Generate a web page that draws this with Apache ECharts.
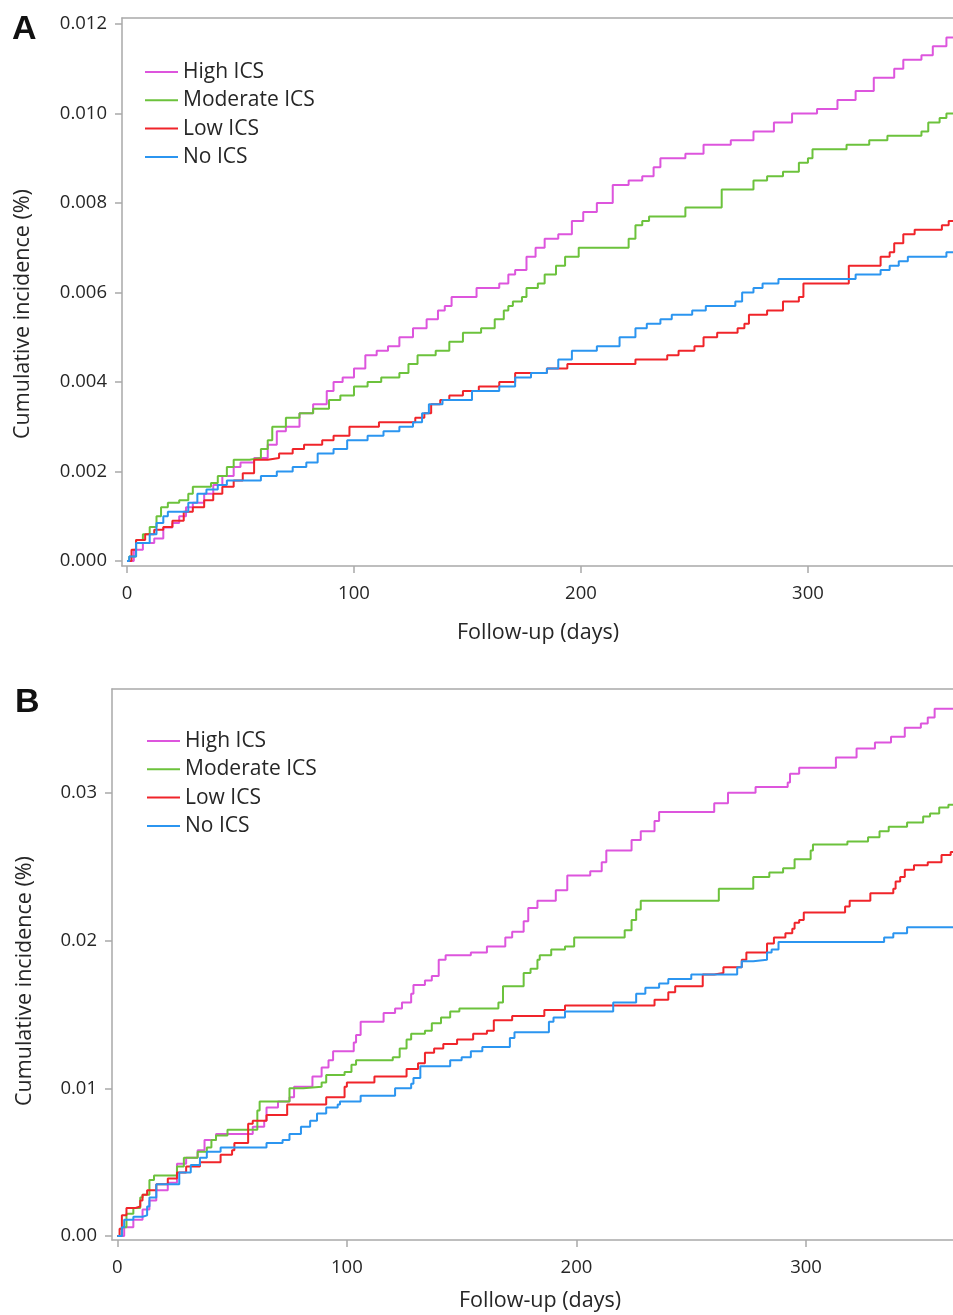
<!DOCTYPE html>
<html>
<head>
<meta charset="utf-8">
<script src="https://cdn.jsdelivr.net/npm/echarts@6/dist/echarts.min.js"></script>
<style>
  html, body { margin: 0; padding: 0; background: #fff; }
  #main { width: 953px; height: 1315px; }
</style>
</head>
<body>
<div id="main"></div>
<script>
// group names, legend order
var groups = ['High ICS', 'Moderate ICS', 'Low ICS', 'No ICS'];
var colors = ['#dd55dd', '#6cc23c', '#f0242a', '#2b95f0'];

// tick values
var xTicks = [0, 100, 200, 300];
var yTicksA = [0, 0.002, 0.004, 0.006, 0.008, 0.010, 0.012];
var yTicksB = [0, 0.01, 0.02, 0.03];

// panel A: [day, cumulative incidence]
var aHigh = [[0,0],[3,0.00025],[7,0.0004],[12,0.0005],[16,0.00075],[20,0.00085],[23,0.001],[26,0.0012],[29,0.0013],[34,0.0015],[38,0.0017],[42,0.0019],[47,0.0021],[50,0.0022],[56,0.0023],[62,0.0026],[66,0.0029],[70,0.0030],[76,0.0033],[82,0.0035],[88,0.0038],[91,0.0040],[95,0.0041],[100,0.0043],[105,0.0046],[110,0.0047],[115,0.0048],[120,0.0050],[126,0.0052],[132,0.0054],[137,0.0056],[140,0.0057],[143,0.0059],[154,0.0061],[164,0.0062],[168,0.0064],[171,0.0065],[176,0.0068],[180,0.0070],[184,0.0072],[190,0.0073],[196,0.0076],[201,0.0078],[207,0.0080],[214,0.0084],[221,0.0085],[227,0.0086],[232,0.0088],[235,0.0090],[246,0.0091],[254,0.0093],[266,0.0094],[276,0.0096],[285,0.0098],[293,0.0100],[304,0.0101],[313,0.0103],[321,0.0105],[329,0.0108],[338,0.0110],[342,0.0112],[350,0.0113],[355,0.0115],[361,0.0117],[364,0.0117]];
var aModerate = [[0,0],[1,0.0001],[4,0.00047],[7,0.0006],[10,0.00076],[13,0.001],[15,0.0012],[18,0.0013],[23,0.00136],[27,0.0015],[29,0.00166],[37,0.00174],[40,0.0019],[44,0.0021],[47,0.00226],[54,0.0023],[59,0.0025],[62,0.0027],[64,0.0030],[70,0.0032],[76,0.0033],[82,0.0034],[89,0.0036],[94,0.0037],[100,0.0039],[106,0.0040],[112,0.0041],[120,0.0042],[124,0.0044],[128,0.0046],[136,0.0047],[142,0.0049],[148,0.0051],[156,0.0052],[162,0.0054],[166,0.0056],[168,0.0057],[170,0.0058],[174,0.0059],[176,0.0061],[181,0.0062],[184,0.0064],[189,0.0066],[193,0.0068],[199,0.0070],[221,0.0072],[224,0.0075],[227,0.0076],[230,0.0077],[246,0.0079],[262,0.0083],[276,0.0085],[282,0.0086],[289,0.0087],[296,0.0089],[300,0.0090],[302,0.0092],[317,0.0093],[327,0.0094],[335,0.0095],[350,0.0096],[353,0.0098],[358,0.0099],[361,0.0100],[364,0.0100]];
var aLow = [[0,0],[2,0.00025],[4,0.00047],[8,0.0006],[12,0.0007],[16,0.00076],[20,0.0009],[25,0.0011],[29,0.0012],[34,0.00136],[38,0.0015],[42,0.00166],[47,0.0018],[51,0.00196],[56,0.00226],[62,0.0023],[67,0.0024],[73,0.0025],[78,0.0026],[86,0.0027],[91,0.0028],[98,0.0030],[111,0.0031],[127,0.0032],[131,0.0033],[134,0.0035],[138,0.0036],[142,0.0037],[148,0.0038],[155,0.0039],[164,0.0040],[171,0.0042],[185,0.0043],[194,0.0044],[224,0.0045],[238,0.0046],[243,0.0047],[250,0.0048],[254,0.0050],[260,0.0051],[269,0.0052],[272,0.0053],[274,0.0055],[282,0.0056],[289,0.0058],[296,0.0059],[298,0.0062],[318,0.0066],[332,0.0068],[336,0.0069],[338,0.0071],[342,0.0073],[347,0.0074],[359,0.0075],[362,0.0076],[364,0.0076]];
var aNone = [[0,0],[1,0.0001],[4,0.0004],[10,0.0006],[13,0.00085],[16,0.001],[18,0.0011],[27,0.0013],[31,0.0015],[35,0.0016],[40,0.0017],[44,0.0018],[59,0.0019],[66,0.0020],[73,0.0021],[79,0.0022],[84,0.0024],[91,0.0025],[97,0.0027],[106,0.0028],[113,0.0029],[120,0.0030],[126,0.0031],[130,0.0033],[133,0.0035],[139,0.0036],[152,0.0038],[164,0.0039],[171,0.0041],[178,0.0042],[185,0.0043],[190,0.0045],[196,0.0047],[207,0.0048],[217,0.0050],[224,0.0052],[229,0.0053],[235,0.0054],[240,0.0055],[249,0.0056],[255,0.0057],[268,0.0058],[271,0.0060],[276,0.0061],[280,0.0062],[287,0.0063],[321,0.0064],[332,0.0065],[336,0.0066],[340,0.0067],[344,0.0068],[361,0.0069],[364,0.0069]];

// panel B
var bHigh = [[0,0],[3,0.0006],[7,0.0011],[11,0.0018],[14,0.0024],[17,0.0031],[22,0.0036],[26,0.0049],[30,0.0053],[35,0.0058],[38,0.0065],[43,0.0069],[59,0.0074],[64,0.0078],[65,0.0087],[70,0.0091],[75,0.0094],[77,0.0101],[85,0.0108],[89,0.0114],[92,0.0119],[94,0.0125],[103,0.0131],[104,0.0136],[106,0.0145],[116,0.0151],[121,0.0154],[124,0.0158],[128,0.0164],[129,0.0170],[134,0.0173],[137,0.0176],[140,0.0187],[143,0.0190],[154,0.0192],[161,0.0196],[169,0.0202],[172,0.0206],[177,0.0213],[179,0.0222],[183,0.0227],[191,0.0234],[196,0.0244],[206,0.0247],[211,0.0253],[213,0.0261],[224,0.0268],[228,0.0274],[234,0.0281],[236,0.0287],[260,0.0293],[266,0.0300],[278,0.0304],[292,0.0307],[293,0.0313],[297,0.0317],[313,0.0324],[322,0.0330],[330,0.0334],[337,0.0338],[343,0.0344],[350,0.0347],[353,0.0351],[356,0.0357],[364,0.0357]];
var bModerate = [[0,0],[2,0.0006],[4,0.0015],[7,0.0019],[10,0.0026],[11,0.0028],[14,0.0038],[16,0.0041],[26,0.0047],[29,0.0053],[35,0.0057],[39,0.0060],[41,0.0065],[43,0.0068],[48,0.0072],[61,0.0085],[62,0.0091],[75,0.0100],[81,0.0101],[89,0.0104],[91,0.0109],[99,0.0111],[102,0.0116],[104,0.0119],[120,0.0121],[123,0.0127],[126,0.0133],[128,0.0137],[134,0.0139],[137,0.0144],[141,0.0148],[145,0.0152],[149,0.0154],[166,0.0158],[168,0.0169],[177,0.0178],[180,0.0181],[183,0.0187],[184,0.0190],[189,0.0194],[195,0.0196],[199,0.0202],[221,0.0207],[224,0.0214],[226,0.0221],[228,0.0227],[262,0.0235],[277,0.0243],[284,0.0246],[290,0.0249],[295,0.0255],[302,0.0261],[303,0.0265],[318,0.0267],[327,0.0270],[332,0.0274],[336,0.0277],[344,0.0280],[351,0.0284],[354,0.0286],[358,0.0290],[362,0.0292],[364,0.0292]];
var bLow = [[0,0],[1,0.0005],[2,0.0014],[4,0.0019],[8,0.0020],[10,0.0024],[11,0.0028],[13,0.0031],[17,0.0035],[22,0.0039],[26,0.0043],[30,0.0047],[36,0.0050],[45,0.0055],[50,0.0058],[51,0.0063],[57,0.0076],[59,0.0078],[65,0.0082],[74,0.0089],[91,0.0094],[99,0.0101],[100,0.0104],[112,0.0108],[126,0.0113],[131,0.0117],[134,0.0124],[138,0.0127],[142,0.0130],[148,0.0133],[155,0.0137],[161,0.0139],[164,0.0146],[172,0.0149],[186,0.0153],[195,0.0156],[234,0.0160],[240,0.0165],[243,0.0169],[255,0.0177],[260,0.0178],[264,0.0182],[272,0.0187],[274,0.0192],[283,0.0198],[286,0.0202],[291,0.0205],[294,0.0208],[295,0.0212],[297,0.0214],[299,0.0219],[317,0.0223],[319,0.0227],[328,0.0232],[338,0.0235],[339,0.0240],[341,0.0243],[343,0.0248],[347,0.0251],[353,0.0253],[359,0.0258],[363,0.0260],[364,0.0260]];
var bNone = [[0,0],[2,0.0006],[3,0.0011],[7,0.0013],[11,0.0014],[13,0.0020],[14,0.0026],[17,0.0035],[27,0.0043],[32,0.0048],[36,0.0053],[39,0.0057],[45,0.0060],[65,0.0063],[72,0.0065],[75,0.0069],[80,0.0074],[84,0.0078],[87,0.0083],[91,0.0087],[96,0.0089],[97,0.0091],[106,0.0095],[121,0.0100],[128,0.0103],[129,0.0107],[132,0.0115],[145,0.0119],[150,0.0121],[154,0.0125],[159,0.0128],[171,0.0134],[173,0.0138],[188,0.0145],[190,0.0148],[195,0.0152],[216,0.0158],[226,0.0164],[230,0.0168],[236,0.0171],[240,0.0174],[250,0.0177],[270,0.0182],[272,0.0186],[277,0.0187],[283,0.0192],[285,0.0194],[288,0.0199],[334,0.0202],[338,0.0205],[344,0.0209],[364,0.0209]];

var chart = echarts.init(document.getElementById('main'));

var FONT = 'Open Sans';
var GRAY = '#a9a9a9';
var TXT = '#262626';

function xAxisCfg(idx, min, max) {
    return {
        type: 'value', gridIndex: idx, min: min, max: max,
        axisLine: { show: true, onZero: false, lineStyle: { color: GRAY, width: 1.5 } },
        axisTick: { show: true, length: 7, lineStyle: { color: GRAY, width: 1.5 }, customValues: xTicks },
        axisLabel: { margin: 18, fontSize: 18.5, fontFamily: FONT, color: TXT, customValues: xTicks },
        splitLine: { show: false }
    };
}

// top frame line only
function topAxisCfg(idx, min, max) {
    return {
        type: 'value', gridIndex: idx, min: min, max: max, position: 'top',
        axisLine: { show: true, onZero: false, lineStyle: { color: GRAY, width: 1.5 } },
        axisTick: { show: false }, axisLabel: { show: false }, splitLine: { show: false }
    };
}

function yAxisCfg(idx, min, max, ticks, digits) {
    return {
        type: 'value', gridIndex: idx, min: min, max: max,
        axisLine: { show: true, onZero: false, lineStyle: { color: GRAY, width: 1.5 } },
        axisTick: { show: true, length: 7, lineStyle: { color: GRAY, width: 1.5 }, customValues: ticks },
        axisLabel: {
            margin: 15, fontSize: 18.5, fontFamily: FONT, color: TXT, customValues: ticks,
            formatter: function (v) { return v.toFixed(digits); }
        },
        splitLine: { show: false }
    };
}

function legendCfg(left, top) {
    return {
        orient: 'vertical', left: left, top: top,
        data: groups, icon: 'rect', itemWidth: 33, itemHeight: 2, itemGap: 6.3,
        textStyle: { fontSize: 21, fontFamily: FONT, color: TXT, lineHeight: 22 }
    };
}

var panels = [[aHigh, aModerate, aLow, aNone], [bHigh, bModerate, bLow, bNone]];
var series = [];
panels.forEach(function (sets, p) {
    sets.forEach(function (d, i) {
        series.push({
            name: groups[i], type: 'line', step: 'end',
            xAxisIndex: p, yAxisIndex: p,
            data: d, showSymbol: false, symbol: 'none',
            color: colors[i],
            lineStyle: { width: 2, color: colors[i] },
            animation: false, silent: true
        });
    });
});

var option = {
    backgroundColor: '#fff',
    animation: false,
    grid: [
        { left: 122, top: 18, width: 831, height: 548 },
        { left: 112, top: 689, width: 841, height: 551 }
    ],
    xAxis: [
        xAxisCfg(0, -2.2, 363.9), xAxisCfg(1, -2.3, 364.0),
        topAxisCfg(0, -2.2, 363.9), topAxisCfg(1, -2.3, 364.0)
    ],
    yAxis: [yAxisCfg(0, -0.000112, 0.012134, yTicksA, 3), yAxisCfg(1, -0.00027, 0.03703, yTicksB, 2)],
    legend: [legendCfg(140, 56), legendCfg(142, 725)],
    series: series,
    graphic: [
        { type: 'text', left: 12, top: 13, style: { text: 'A', font: 'bold 34px "Liberation Sans"', fill: '#111' } },
        { type: 'text', left: 15, top: 686, style: { text: 'B', font: 'bold 34px "Liberation Sans"', fill: '#111' } },
        { type: 'text', x: 23, y: 314, rotation: Math.PI / 2,
          style: { text: 'Cumulative incidence (%)', font: '21.5px "Open Sans"', fill: TXT, align: 'center', verticalAlign: 'middle' } },
        { type: 'text', x: 538, y: 633,
          style: { text: 'Follow-up (days)', font: '21.5px "Open Sans"', fill: TXT, align: 'center', verticalAlign: 'middle' } },
        { type: 'text', x: 25, y: 981, rotation: Math.PI / 2,
          style: { text: 'Cumulative incidence (%)', font: '21.5px "Open Sans"', fill: TXT, align: 'center', verticalAlign: 'middle' } },
        { type: 'text', x: 540, y: 1301,
          style: { text: 'Follow-up (days)', font: '21.5px "Open Sans"', fill: TXT, align: 'center', verticalAlign: 'middle' } }
    ]
};

chart.setOption(option);
</script>
</body>
</html>
